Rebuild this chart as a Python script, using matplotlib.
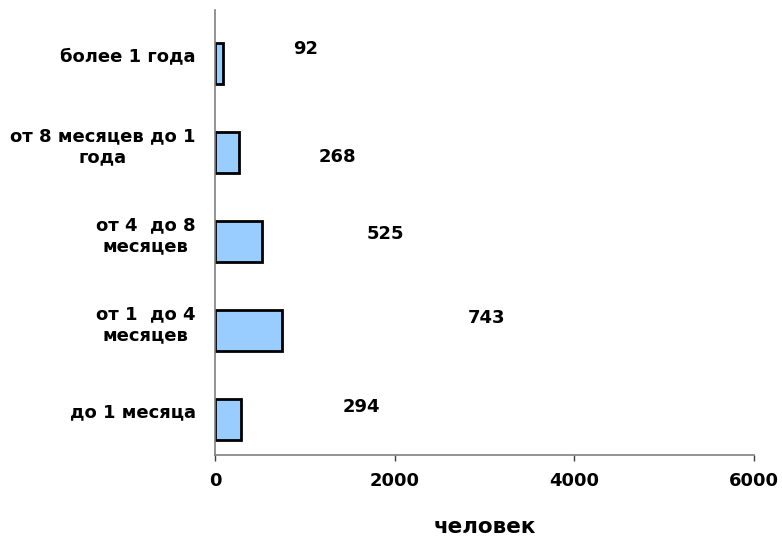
import numpy as np
import matplotlib.pyplot as plt

plt.rcParams['font.family'] = ['DejaVu Sans']

# categories from bottom to top
categories = ["до 1 месяца", "от 1  до 4\nмесяцев", "от 4  до 8\nмесяцев",
              "от 8 месяцев до 1\nгода", "более 1 года"]
values = [294, 743, 525, 268, 92]
# label offsets (pixels) relative to bar end, as placed in the original
label_dx = [120, 205, 123, 98, 82]
label_dy = [4, 4, -1, -13, 6]

fig = plt.figure(figsize=(7.82, 5.39), dpi=100)
ax = fig.add_axes([0.2749, 0.1558, 0.6893, 0.8256])

pos = np.arange(len(values))
bars = ax.barh(pos - 0.1, values, height=0.47, color="#99CCFF",
               edgecolor="black", linewidth=2)

for p, v, dx, dy in zip(pos, values, label_dx, label_dy):
    ax.annotate(f"{v}", xy=(v, p), xytext=(dx * 0.72, dy * 0.72),
                textcoords="offset points", ha="center", va="center",
                fontsize=13, fontweight="bold")

ax.set_xlim(0, 6000)
ax.set_ylim(-0.5, 4.5)
ax.set_xticks([0, 2000, 4000, 6000])
ax.set_yticks(pos)
ax.set_yticklabels(categories, fontsize=13, fontweight="bold",
                   multialignment="center")
for lbl in ax.get_xticklabels():
    lbl.set_fontweight("bold")
    lbl.set_fontsize(13)
ax.tick_params(axis="y", length=0, pad=14)
ax.tick_params(axis="x", length=4, width=1, color="#404040", pad=8.5)

for s in ["top", "right"]:
    ax.spines[s].set_visible(False)
for s in ["left", "bottom"]:
    ax.spines[s].set_color("#808080")
    ax.spines[s].set_linewidth(1.2)

ax.set_xlabel("человек", fontsize=15.5, fontweight="bold", labelpad=19)

fig.savefig("out.png", dpi=100)
